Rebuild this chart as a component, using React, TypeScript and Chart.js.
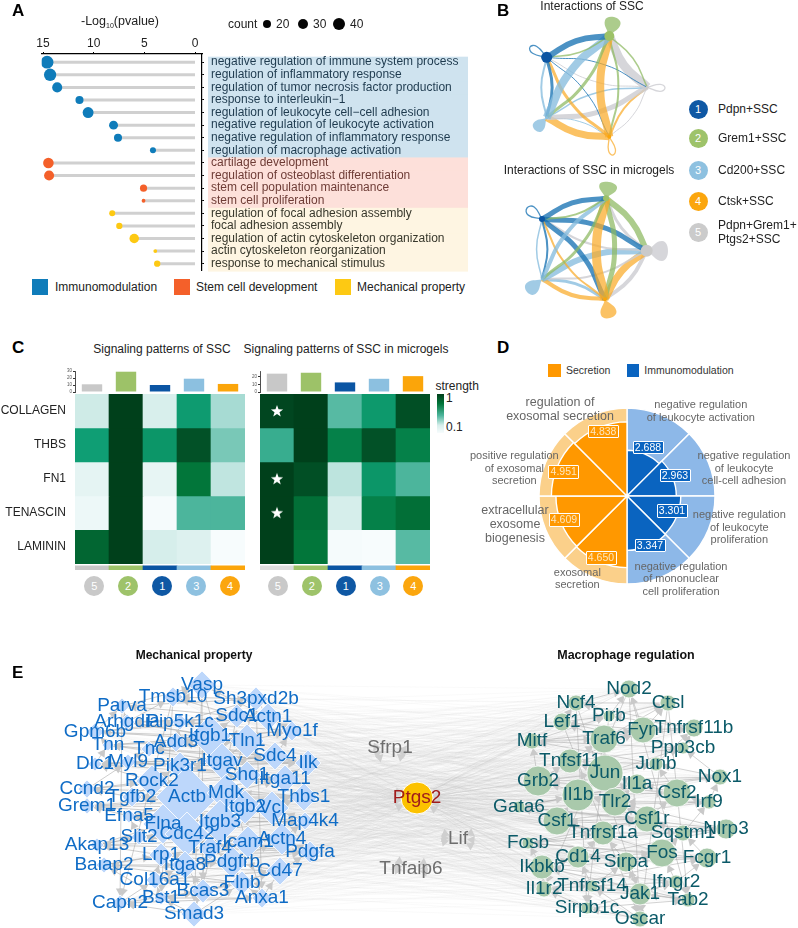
import React, { useEffect, useRef } from "react";
import { Chart, registerables } from "chart.js";
Chart.register(...registerables);
const FONT = "'Liberation Sans', Arial, sans-serif";
Chart.defaults.font.family = FONT;
Chart.defaults.layout.autoPadding = false;

// ---------- Panel A ----------
const goTerms = ["negative regulation of immune system process","regulation of inflammatory response","regulation of tumor necrosis factor production","response to interleukin\u22121","regulation of leukocyte cell\u2212cell adhesion","negative regulation of leukocyte activation","negative regulation of inflammatory response","regulation of macrophage activation","cartilage development","regulation of osteoblast differentiation","stem cell population maintenance","stem cell proliferation","regulation of focal adhesion assembly","focal adhesion assembly","regulation of actin cytoskeleton organization","actin cytoskeleton reorganization","response to mechanical stimulus"];
const goLog10P = [14.6,14.3,13.6,11.4,10.55,8.04,7.6,4.15,14.47,14.4,5.08,5.08,8.17,7.47,6.0,3.92,3.73];
const goCount = [45,42,28,18,33,22,18,10,31,28,14,4,10,11,25,4,11];
const goGroup = [0,0,0,0,0,0,0,0,1,1,1,1,2,2,2,2,2];
const xTicksA = [0,5,10,15];
const groupColors = ["#0f7cba","#f4602a","#fdc913"];
const groupBands = ["#cfe3ef","#fde0da","#fef5e2"];
const groupText = ["#1e3a4e","#6e3c36","#38382c"];

// ---------- Panel B ----------
const netNodesTop = [[546.7,57.3],[609.3,36],[546.7,117.7],[609.3,136.7],[647.3,87.3]];
const netNodesBottom = [[542,219],[606,198.3],[542,279.3],[605,299.3],[646.7,250.7]];
const netDotTop = [5.5,5,1.5,2,1.5];
const netDotBottom = [3,3,1,2,6];
// from, to, weight
const edgesTop = [[0,1,6],[1,0,1.5],[2,1,8],[1,2,3],[3,1,8],[1,3,2],[0,2,3],[2,0,2],[3,0,3],[0,3,1],[0,4,1],[4,0,1],[1,4,1.5],[4,1,9],[2,4,1.5],[4,2,5],[3,2,7],[2,3,1],[3,4,2],[4,3,1]];
const edgesBottom = [[0,1,5],[1,0,2],[2,1,4],[1,2,3],[3,1,9],[1,3,5],[0,2,2],[2,0,1.5],[3,0,2],[0,3,5],[0,4,5],[4,0,2],[1,4,6],[4,1,3],[2,4,6],[4,2,2],[3,2,4],[2,3,3],[3,4,7],[4,3,4]];
// node, tip x, tip y, half width, filled
const lobesTop = [[0,530,47,4,0],[1,614,17,8,1],[2,535,130,6,1],[3,613,155,3.5,0],[4,665,88,3.5,0]];
const lobesBottom = [[0,527,208,5,0],[1,609,182,9,1],[2,527,292,7,1],[3,610,318,8,1],[4,668,251,10,1]];
const cellSolid = ["#0b55a3","#9dc268","#8cc0e0","#fba50a","#cacaca"];
const cellEdge = ["rgba(25,115,180,.78)","rgba(140,185,95,.72)","rgba(135,188,222,.78)","rgba(250,170,40,.72)","rgba(205,205,210,.82)"];
const cellNames = [["Pdpn+SSC"],["Grem1+SSC"],["Cd200+SSC"],["Ctsk+SSC"],["Pdpn+Grem1+","Ptgs2+SSC"]];

// ---------- Panel C ----------
const pathways = ["COLLAGEN","THBS","FN1","TENASCIN","LAMININ"];
const clusterOrder = ["5","2","1","3","4"];
const clusterColor = ["#c8c8c8","#9dc268","#0b55a3","#8cc0e0","#fba50a"];
const heatSSC = [[.22,1,.19,.66,.33],[.65,1,.68,.92,.42],[.11,1,.10,.8,.26],[.06,1,.01,.5,.5],[.85,1,.2,.16,0]];
const heatMicro = [[.97,1,.48,.67,.93],[.55,1,.76,.92,.76],[1,.93,.27,.68,.5],[1,.82,.2,.76,.82],[1,.8,.01,0,.48]];
const barsSSC = [11,29,10,19,11.5];
const barsMicro = [24.3,25.5,12.7,17.5,21];
const starRows = [0.5,2.5,3.5];
const greenStops = [[0,"#f7fcfd"],[.2,"#d6eeeb"],[.35,"#a0d8cf"],[.5,"#4cb59c"],[.65,"#0f9e74"],[.8,"#02763a"],[.9,"#02552a"],[1,"#00401b"]];

// ---------- Panel D ----------
const enrichNames = ["neg leukocyte activation","neg leukocyte cell-cell adhesion","neg leukocyte proliferation","neg mononuclear proliferation","exosomal secretion","exosome biogenesis","pos exosomal secretion","reg exosomal secretion"];
const enrichValues = [2.688,2.963,3.301,3.347,4.65,4.609,4.951,4.838];
const enrichMax = [5.89,5.89,5.89,5.89,5.89,5.89,5.89,5.89];
const enrichDark = ["#0a64c0","#0a64c0","#0a64c0","#0a64c0","#ff9800","#ff9800","#ff9800","#ff9800"];
const enrichLight = ["#8db8e8","#8db8e8","#8db8e8","#8db8e8","#fbd08a","#fbd08a","#fbd08a","#fbd08a"];

// ---------- Panel E ----------
const mechGenes = ["Vasp","Tmsb10","Sh3pxd2b","Parva","Sdc1","Actn1","Arhgdia","Pip5k1c","Gpm6b","Itgb1","Myo1f","Tln1","Add3","Tnn","Tnc","Sdc4","Itgav","Ilk","Dlc1","Myl9","Pik3r1","Shq1","Itga11","Rock2","Ccnd2","Tgfb2","Actb","Mdk","Thbs1","Grem1","Itgb2","Vcl","Efna5","Itgb3","Map4k4","Flna","Cdc42","Slit2","Akap13","Actn4","Icam1","Traf4","Pdgfa","Lrp1","Pdgfrb","Itga8","Baiap2","Cd47","Col16a1","Flnb","Bcas3","Bst1","Anxa1","Capn2","Smad3"];
const mechX = [202,173,256,122,237,268,127,180,95,210,292,247,176,108,149,275,222,308,95,128,180,247,285,152,87,132,187,226,304,87,245,272,129,220,305,163,187,139,97,282,248,210,310,161,232,185,104,280,155,242,203,161,262,120,194];
const mechY = [685,697,699,706,716,717,722,722,732,736,731,741,742,745,749,756,761,763,764,762,766,775,779,781,789,797,797,793,797,806,807,808,816,822,821,824,834,837,845,839,842,848,852,855,862,865,865,871,880,883,891,898,898,903,914];
const mechSize = [14,10,12,8,12,14,8,8,9,21,10,17,10,6,8,14,18,13,7,8,14,14,14,16,9,10,31,19,14,8,17,17,7,22,9,20,22,8,7,16,16,12,11,12,16,14,8,14,9,12,12,7,10,8,13];
const macroGenes = ["Nod2","Ncf4","Ctsl","Pirb","Lef1","Fyn","Tnfrsf11b","Traf6","Mitf","Ppp3cb","Tnfsf11","Junb","Jun","Grb2","Nox1","Il1a","Csf2","Il1b","Tlr2","Irf9","Gata6","Csf1r","Csf1","Nlrp3","Sqstm1","Tnfrsf1a","Fosb","Fos","Cd14","Fcgr1","Sirpa","Ikbkb","Ifngr2","Tnfrsf14","Il1r2","Jak1","Tab2","Sirpb1c","Oscar"];
const macroX = [629,576,668,609,562,643,694,604,532,683,570,656,605,538,720,637,677,578,615,709,519,647,557,726,683,603,528,662,578,707,626,542,676,592,544,640,688,587,640];
const macroY = [689,703,703,716,722,730,728,739,741,748,761,764,773,781,777,784,793,795,802,802,807,819,821,829,833,833,843,853,857,858,862,867,882,886,889,894,900,908,919];
const macroSize = [9,8,8,6,9,13,9,14,8,6,12,7,18,15,8,10,14,16,14,7,6,13,14,10,8,12,6,14,11,10,10,12,7,6,8,11,7,6,8];
const hubGenes = ["Sfrp1","Lif","Tnfaip6"];
const hubX = [390,458,411];
const hubY = [748,839,869];
const ptgs2 = { name: "Ptgs2", x: 417, y: 798, size: 16 };

// ---------- helpers ----------
const hex = (h: string) => [1,3,5].map(i => parseInt(h.slice(i,i+2),16));
function green(v: number) {
  for (let i = 1; i < greenStops.length; i++) {
    const [a, ca] = greenStops[i-1] as any; const [b, cb] = greenStops[i] as any;
    if (v <= b) { const t = (v-a)/(b-a); const A = hex(ca), B = hex(cb);
      return `rgb(${A.map((c,k)=>Math.round(c+(B[k]-c)*t)).join(",")})`; }
  }
  return greenStops[greenStops.length-1][1] as string;
}
const noPad = (s:any) => { s.paddingTop=0; s.paddingBottom=0; s.paddingLeft=0; s.paddingRight=0; };
const baseOpts = { responsive:false, animation:false as const, plugins:{legend:{display:false},tooltip:{enabled:false}} };

function Box({x,y,w,h,config}: any) {
  const ref = useRef<HTMLCanvasElement>(null);
  useEffect(() => { const c = new Chart(ref.current as any, config()); return () => c.destroy(); }, []);
  return <canvas ref={ref} width={w} height={h} style={{position:"absolute",left:x,top:y,width:w,height:h}} />;
}
function T({x,y,size=12,color="#222",bold=false,align="left",children}: any) {
  const tx = align==="center" ? "-50%" : align==="right" ? "-100%" : "0";
  return <div style={{position:"absolute",left:x,top:y,transform:`translate(${tx},-50%)`,fontSize:size,color,fontWeight:bold?700:400,lineHeight:1,whiteSpace:"nowrap",fontFamily:FONT}}>{children}</div>;
}
function Sq({x,y,s,c}: any) { return <div style={{position:"absolute",left:x,top:y,width:s,height:s,background:c}} />; }
function Dot({x,y,r,c,label}: any) {
  return <div style={{position:"absolute",left:x-r,top:y-r,width:2*r,height:2*r,borderRadius:"50%",background:c,color:"#fff",fontSize:11,lineHeight:`${2*r}px`,textAlign:"center",fontFamily:FONT,opacity:.98}}>{label}</div>;
}

// ---------- chart configs ----------
function configA() {
  const datasets = goTerms.map((_,i) => ({
    data:[{x:0,y:i},{x:goLog10P[i],y:i}], showLine:true, borderColor:"#d0d0d0", borderWidth:3,
    pointRadius:[0,0.95*Math.sqrt(goCount[i])], pointBackgroundColor:groupColors[goGroup[i]], pointBorderWidth:0,
  }));
  return {
    type:"scatter", data:{datasets},
    options:{...baseOpts, layout:{autoPadding:false,padding:{left:41.7,bottom:2}},
      scales:{
        x:{type:"linear",position:"top",reverse:true,min:-0.69,max:15.13,
          afterBuildTicks:(s:any)=>{s.ticks=xTicksA.map(v=>({value:v}))}, afterFit:(s:any)=>{s.height=54;noPad(s);},
          ticks:{font:{size:12},color:"#222",padding:1,maxRotation:0},
          grid:{drawOnChartArea:false,color:"#000",tickLength:2}, border:{color:"#000",width:1.2}},
        y:{type:"linear",position:"right",reverse:true,min:-0.65,max:16.5,
          afterBuildTicks:(s:any)=>{s.ticks=goTerms.map((_,i)=>({value:i}))}, afterFit:(s:any)=>{s.width=278;noPad(s);},
          ticks:{font:{size:12},autoSkip:false,padding:7,callback:(v:number)=>goTerms[v],
            color:(c:any)=>groupText[goGroup[c.index]]},
          grid:{drawOnChartArea:false,color:"#000",tickLength:2}, border:{color:"#000",width:1.2}},
      }},
    plugins:[{id:"bands",beforeDraw(c:any){
      const y=c.scales.y, ctx=c.ctx, L=c.chartArea.right+6;
      goTerms.forEach((_,i)=>{ctx.fillStyle=groupBands[goGroup[i]];
        ctx.fillRect(L,y.getPixelForValue(i-.5)+.8,260,y.getPixelForValue(i+.5)-y.getPixelForValue(i-.5)+.8);});
    }}],
  };
}
function ringDatasets(nodes:number[][],dots:number[],edges:number[][],lobes:number[][]) {
  const ds:any[]=[];
  nodes.forEach((n,i)=>ds.push({data:[{x:n[0],y:n[1]}],pointRadius:dots[i],pointBackgroundColor:cellSolid[i],pointBorderWidth:0,showLine:false,order:-1}));
  edges.forEach(([a,b,w])=>{
    const A=nodes[a],B=nodes[b],dx=B[0]-A[0],dy=B[1]-A[1],k=0.09;
    ds.push({data:[{x:A[0],y:A[1]},{x:(A[0]+B[0])/2+k*dy,y:(A[1]+B[1])/2-k*dx},{x:B[0],y:B[1]}],
      showLine:true,tension:.5,borderColor:cellEdge[a],borderWidth:w,pointRadius:0,borderCapStyle:"butt"});
  });
  lobes.forEach(([n,tx,ty,hw,filled])=>{
    const A=nodes[n],dx=tx-A[0],dy=ty-A[1],len=Math.hypot(dx,dy),px=-dy/len*hw,py=dx/len*hw,mx=A[0]+dx*.72,my=A[1]+dy*.72;
    ds.push({data:[{x:A[0],y:A[1]},{x:mx+px,y:my+py},{x:tx,y:ty},{x:mx-px,y:my-py},{x:A[0],y:A[1]}],
      showLine:true,tension:.5,pointRadius:0,borderColor:filled?"rgba(0,0,0,0)":cellEdge[n],borderWidth:filled?0:1.3,
      fill:filled?"shape":false,backgroundColor:cellEdge[n]});
  });
  return ds;
}
function configB() {
  return {type:"scatter",data:{datasets:[...ringDatasets(netNodesTop,netDotTop,edgesTop,lobesTop),...ringDatasets(netNodesBottom,netDotBottom,edgesBottom,lobesBottom)]},
    options:{...baseOpts,layout:{autoPadding:false},scales:{x:{type:"linear",display:false,min:500,max:680},y:{type:"linear",display:false,reverse:true,min:0,max:325}}}};
}
const starImage = () => {
  const c=document.createElement("canvas"); c.width=14;c.height=14; const g=c.getContext("2d")!;
  g.fillStyle="#fff"; g.beginPath();
  for(let i=0;i<10;i++){const r=i%2?2.6:6.4,a=-Math.PI/2+i*Math.PI/5; g[i?"lineTo":"moveTo"](7+r*Math.cos(a),7.4+r*Math.sin(a));}
  g.closePath(); g.fill(); return c;
};
function configHeat(matrix:number[][],stars:boolean,labels:boolean) {
  const datasets:any[]=matrix.map((row,i)=>({label:pathways[i],data:row.map(()=>1),backgroundColor:row.map(green),borderWidth:0,stack:"h"}));
  datasets.push({data:clusterOrder.map(()=>.06),backgroundColor:"rgba(0,0,0,0)",borderWidth:0,stack:"h"});
  datasets.push({data:clusterOrder.map(()=>.125),backgroundColor:clusterColor.map((c,i)=>stars&&i===0?"#dcdcdc":c),borderWidth:0,stack:"h"});
  if(stars) datasets.unshift({type:"line",showLine:false,stack:"stars",order:-1,data:starRows.map(y=>({x:clusterOrder[0],y})),pointStyle:starImage(),pointRadius:7});
  return {type:"bar",data:{labels:clusterOrder,datasets},
    options:{...baseOpts,layout:{autoPadding:false},datasets:{bar:{barPercentage:1,categoryPercentage:1}},
      scales:{x:{display:false,stacked:true,offset:true},
        y:{stacked:true,reverse:true,min:0,max:5.185,position:"left",display:labels,
          afterBuildTicks:(s:any)=>{s.ticks=pathways.map((_,i)=>({value:i+.5}))},afterFit:(s:any)=>{if(labels)s.width=75;noPad(s);},
          ticks:{font:{size:12},color:"#222",padding:9,autoSkip:false,callback:(v:number)=>pathways[Math.floor(v)]},
          grid:{display:false,drawTicks:false},border:{display:false}}}}};
}
function configTop(vals:number[],max:number,ticks:number[]) {
  return {type:"bar",data:{labels:clusterOrder,datasets:[{data:vals,backgroundColor:clusterColor,borderWidth:0}]},
    options:{...baseOpts,layout:{autoPadding:false,padding:{top:3,bottom:1}},datasets:{bar:{barPercentage:.6,categoryPercentage:1}},
      scales:{x:{display:false},
        y:{min:0,max,afterBuildTicks:(s:any)=>{s.ticks=ticks.map(v=>({value:v}))},afterFit:(s:any)=>{s.width=16;noPad(s);},
          ticks:{font:{size:4.5},color:"#555",padding:1,autoSkip:false},grid:{drawOnChartArea:false,color:"#333",tickLength:2},border:{color:"#222",width:.8}}}}};
}
function configD() {
  return {type:"polarArea",data:{labels:enrichNames,datasets:[
      {data:enrichValues,backgroundColor:enrichDark,borderColor:"#fff",borderWidth:1.4},
      {data:enrichMax,backgroundColor:enrichLight,borderColor:"#fff",borderWidth:1.4}]},
    options:{...baseOpts,layout:{autoPadding:false},scales:{r:{display:false,min:-0.77,max:5.89}}}};
}
function crossEdges() {
  const ds:any[]=[];
  mechGenes.forEach((_,i)=>{
    const pts:any[]=[];
    macroGenes.forEach((_,j)=>{ if((i*2+j)%3===0){pts.push({x:mechX[i],y:mechY[i]},{x:macroX[j],y:macroY[j]},{x:NaN,y:NaN});} });
    pts.push({x:mechX[i],y:mechY[i]},{x:ptgs2.x,y:ptgs2.y});
    ds.push({data:pts,showLine:true,spanGaps:false,pointRadius:0,borderColor:"rgba(190,190,190,.16)",borderWidth:.5,tension:0});
  });
  macroGenes.forEach((_,j)=>ds.push({data:[{x:ptgs2.x,y:ptgs2.y},{x:macroX[j],y:macroY[j]}],showLine:true,pointRadius:0,borderColor:"rgba(185,185,185,.3)",borderWidth:.6}));
  return ds;
}
function clusterEdges(X:number[],Y:number[],S:number[],lw:string) {
  const line:any[]=[], arrows:any[]=[], rot:number[]=[];
  X.forEach((_,i)=>{[1,3,5].forEach(step=>{
    const j=(i+step)%X.length; line.push({x:X[j],y:Y[j]},{x:X[i],y:Y[i]},{x:NaN,y:NaN});
    const dx=X[i]-X[j],dy=Y[i]-Y[j],len=Math.hypot(dx,dy)||1,r=S[i]+4;
    arrows.push({x:X[i]-dx/len*r,y:Y[i]-dy/len*r}); rot.push(Math.atan2(dy,dx)*180/Math.PI+90);
  });});
  return [
    {data:arrows,showLine:false,pointStyle:"triangle",pointRadius:5,pointRotation:rot,pointBackgroundColor:"#c9c9c9",pointBorderWidth:0,order:1},
    {data:line,showLine:true,spanGaps:false,pointRadius:0,borderColor:lw,borderWidth:1,order:2},
  ];
}
function hubArrows() {
  const arrows:any[]=[], rot:number[]=[];
  const targets=[...hubX.map((x,i)=>[x,hubY[i],14]),[ptgs2.x,ptgs2.y,ptgs2.size+4]];
  const sources=[[mechX[9],mechY[9]],[mechX[33],mechY[33]],[mechX[49],mechY[49]],[macroX[12],macroY[12]],[macroX[27],macroY[27]],[macroX[37],macroY[37]]];
  targets.forEach(([tx,ty,r])=>sources.forEach(([sx,sy])=>{
    const dx=tx-sx,dy=ty-sy,len=Math.hypot(dx,dy);
    arrows.push({x:tx-dx/len*r,y:ty-dy/len*r}); rot.push(Math.atan2(dy,dx)*180/Math.PI+90);
  }));
  return {data:arrows,showLine:false,pointStyle:"triangle",pointRadius:5,pointRotation:rot,pointBackgroundColor:"#cfcfcf",pointBorderWidth:0,order:1};
}
function configE() {
  const hubPts=hubX.map((x,i)=>({x,y:hubY[i]}));
  const datasets:any[]=[
    {data:[{x:ptgs2.x,y:ptgs2.y}],pointRadius:ptgs2.size,pointBackgroundColor:"#fcc200",pointBorderColor:"#fff",pointBorderWidth:1,order:0},
    {data:mechX.map((x,i)=>({x,y:mechY[i]})),pointStyle:"rectRot",pointRadius:mechSize,pointBackgroundColor:"#bdd7fb",pointBorderColor:"#fff",pointBorderWidth:.8,order:0},
    {data:macroX.map((x,i)=>({x,y:macroY[i]})),pointRadius:macroSize,pointBackgroundColor:"#a9c9ab",pointBorderColor:"#fff",pointBorderWidth:.8,order:0},
    {data:hubPts,pointRadius:0,order:0},
    hubArrows(),
    ...clusterEdges(mechX,mechY,mechSize,"rgba(165,165,165,.55)"),
    ...clusterEdges(macroX,macroY,macroSize,"rgba(165,165,165,.5)"),
    ...crossEdges().map(d=>({...d,order:3})),
  ];
  const labels=(c:any)=>{
    const ctx=c.ctx,x=c.scales.x,y=c.scales.y; ctx.save(); ctx.font=`19px ${FONT}`; ctx.textAlign="center"; ctx.textBaseline="middle";
    ctx.fillStyle="#0f6cc6"; mechGenes.forEach((g,i)=>ctx.fillText(g,x.getPixelForValue(mechX[i]),y.getPixelForValue(mechY[i])));
    ctx.fillStyle="#0b5a68"; macroGenes.forEach((g,i)=>ctx.fillText(g,x.getPixelForValue(macroX[i]),y.getPixelForValue(macroY[i])));
    ctx.fillStyle="#6e6e6e"; hubGenes.forEach((g,i)=>ctx.fillText(g,x.getPixelForValue(hubX[i]),y.getPixelForValue(hubY[i])));
    ctx.fillStyle="#a01c1c"; ctx.fillText(ptgs2.name,x.getPixelForValue(ptgs2.x),y.getPixelForValue(ptgs2.y));
    ctx.restore();
  };
  return {type:"scatter",data:{datasets},
    options:{...baseOpts,layout:{autoPadding:false},scales:{x:{type:"linear",display:false,min:0,max:798},y:{type:"linear",display:false,reverse:true,min:640,max:928}}},
    plugins:[{id:"geneLabels",afterDatasetsDraw:labels}]};
}

const dLabels:any[] = [
  [560,[401.7,415.7],["regulation of","exosomal secretion"],12.5],
  [700.8,[404,416.7],["negative regulation","of leukocyte activation"],11],
  [744,[455,467.7,480],["negative regulation","of leukocyte","cell-cell adhesion"],11],
  [739.3,[514.3,526.7,539],["negative regulation","of leukocyte","proliferation"],11],
  [681,[566,578.3,591],["negative regulation","of mononuclear","cell proliferation"],11],
  [577.3,[571.7,583.7],["exosomal","secretion"],11],
  [515,[510,524,538],["extracellular","exosome","biogenesis"],12.5],
  [514.3,[455.3,468,480.3],["positive regulation","of exosomal","secretion"],11],
];
const dBoxes:any[] = [
  ["4.838",603.3,431,"#ff9800"],["4.951",563.7,471.5,"#ff9800"],["4.609",564,519.5,"#ff9800"],["4.650",601,557.5,"#ff9800"],
  ["2.688",648,447,"#0a64c0"],["2.963",675,475,"#0a64c0"],["3.301",672,510.5,"#0a64c0"],["3.347",650,545,"#0a64c0"],
];
const legendBY=[109,138,170,201,232];
const colL=[94.3,128,162.3,196.3,230], colR=[277.7,311.7,345.7,379.7,413.3];

export default function App() {
  return (
    <div style={{position:"absolute",left:0,top:0,width:798,height:928,background:"#fff",overflow:"hidden",fontFamily:FONT}}>
      <Box x={0} y={0} w={480} h={272} config={configA} />
      <T x={12} y={10} size={17} bold color="#000">A</T>
      <T x={120} y={22} align="center" size={12.5}>-Log<sub style={{fontSize:7}}>10</sub>(pvalue)</T>
      <T x={228} y={23.5} size={12}>count</T>
      <Dot x={267} y={24} r={4} c="#000" /><T x={276} y={23.5} size={12}>20</T>
      <Dot x={303} y={24} r={5} c="#000" /><T x={313} y={23.5} size={12}>30</T>
      <Dot x={339} y={24} r={6} c="#000" /><T x={350} y={23.5} size={12}>40</T>
      <Sq x={32} y={279} s={16} c="#0f7cba" /><T x={55} y={287} size={12}>Immunomodulation</T>
      <Sq x={174} y={279} s={16} c="#f4602a" /><T x={196} y={287} size={12}>Stem cell development</T>
      <Sq x={335} y={279} s={16} c="#fdc913" /><T x={357} y={287} size={12}>Mechanical property</T>

      <Box x={500} y={0} w={180} h={325} config={configB} />
      <T x={497} y={10} size={17} bold color="#000">B</T>
      <T x={592} y={6} align="center" size={12}>Interactions of SSC</T>
      <T x={589} y={170} align="center" size={12}>Interactions of SSC in microgels</T>
      {legendBY.map((y,i)=><Dot key={i} x={698} y={y} r={9.5} c={cellSolid[i]} label={i+1} />)}
      {cellNames.map((lines,i)=>lines.map((s,k)=><T key={s} x={718} y={legendBY[i]+(lines.length>1?(k-.5)*14:0)} size={12}>{s}</T>))}

      <T x={12} y={347} size={17} bold color="#000">C</T>
      <T x={162} y={349} align="center" size={12}>Signaling patterns of SSC</T>
      <T x={346} y={349} align="center" size={12}>Signaling patterns of SSC in microgels</T>
      <Box x={59} y={368} w={186} h={25} config={()=>configTop(barsSSC,30,[0,10,20,30])} />
      <Box x={244} y={368} w={186} h={25} config={()=>configTop(barsMicro,27.8,[0,10,20])} />
      <Box x={0} y={394} w={245} h={176} config={()=>configHeat(heatSSC,false,true)} />
      <Box x={260} y={394} w={170} h={176} config={()=>configHeat(heatMicro,true,false)} />
      {clusterOrder.map((n,i)=><Dot key={"l"+n} x={colL[i]} y={585.7} r={10} c={clusterColor[i]} label={n} />)}
      {clusterOrder.map((n,i)=><Dot key={"r"+n} x={colR[i]} y={585.7} r={10} c={clusterColor[i]} label={n} />)}
      <T x={435.5} y={386} size={12}>strength</T>
      <div style={{position:"absolute",left:436.7,top:394,width:7.6,height:39,background:"linear-gradient(#00401b,#02763a 25%,#4cb59c 55%,#d6eeeb 80%,#f7fcfd)"}} />
      <T x={446} y={398} size={12}>1</T>
      <T x={446} y={427} size={12}>0.1</T>

      <T x={497} y={347} size={17} bold color="#000">D</T>
      <Sq x={548.3} y={364} s={12.6} c="#ff9800" /><T x={566} y={370} size={10.5} color="#333">Secretion</T>
      <Sq x={626.7} y={364} s={12.6} c="#0a64c0" /><T x={644.3} y={370} size={10.5} color="#333">Immunomodulation</T>
      <Box x={539} y={408} w={176} h={176} config={configD} />
      {dBoxes.map(([t,x,y,c])=><div key={t} style={{position:"absolute",left:x-15.5,top:y-6.5,width:29,height:11.5,border:"1px solid #fff",borderRadius:1,background:c,color:c==="#ff9800"?"#fde6bd":"#fff",fontSize:10.5,lineHeight:"11.5px",textAlign:"center",fontFamily:FONT}}>{t}</div>)}
      {dLabels.map(([x,ys,lines,size])=>lines.map((s:string,k:number)=><T key={s+x} x={x} y={ys[k]} align="center" size={size} color="#666">{s}</T>))}

      <Box x={0} y={640} w={798} h={288} config={configE} />
      <T x={12} y={672} size={17} bold color="#000">E</T>
      <T x={194} y={655} align="center" size={12} bold color="#111">Mechanical property</T>
      <T x={626} y={655} align="center" size={12.5} bold color="#111">Macrophage regulation</T>
    </div>
  );
}
